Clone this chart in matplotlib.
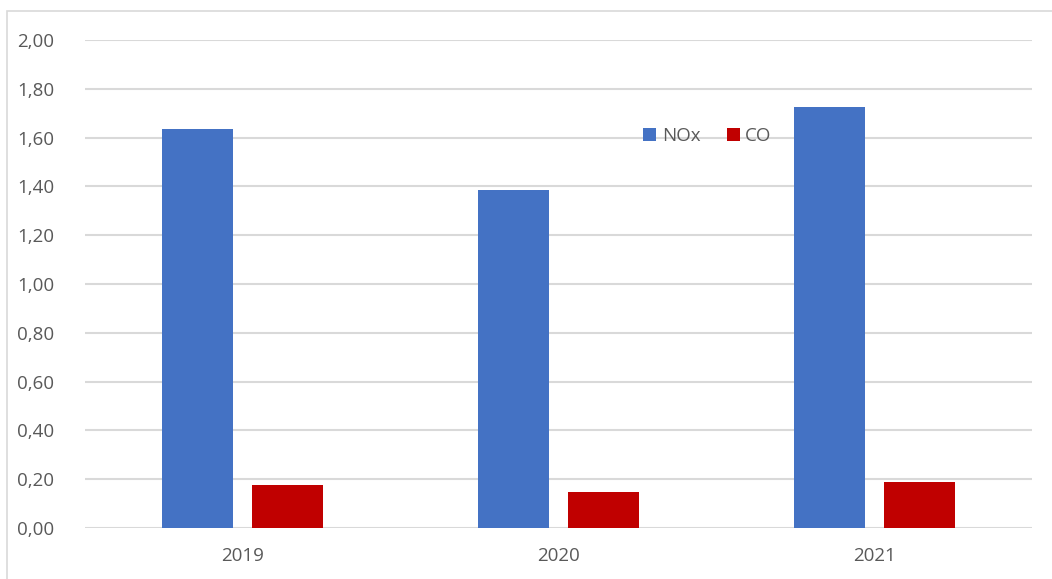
import numpy as np
import matplotlib.pyplot as plt
from matplotlib.patches import Rectangle

years = ['2019', '2020', '2021']
nox = [1.635, 1.385, 1.725]
co = [0.176, 0.148, 0.189]

plt.rcParams['font.family'] = ['Open Sans', 'DejaVu Sans']

fig = plt.figure(figsize=(10.52, 5.79), dpi=100)
ax = fig.add_axes([85 / 1052, 1 - 528 / 579, (1032 - 85) / 1052, (528 - 40) / 579])

# рамка вокруг диаграммы
fig.patches.append(Rectangle((7 / 1052, -0.05), 1.1, 1 - 11 / 579 + 0.05,
                             transform=fig.transFigure, fill=False,
                             edgecolor='#d9d9d9', linewidth=1.2))

x = np.arange(len(years))
w = 0.225
ax.bar(x - 0.143, nox, w, color='#4472c4', label='NOx', zorder=3)
ax.bar(x + 0.143, co, w, color='#c00000', label='CO', zorder=3)

ax.set_xlim(-0.5, 2.5)
ax.set_ylim(0, 2.0)
ax.set_yticks(np.arange(0, 2.01, 0.2))
ax.set_yticklabels([f'{v:.2f}'.replace('.', ',') for v in np.arange(0, 2.01, 0.2)])
ax.set_xticks(x)
ax.set_xticklabels(years)
ax.tick_params(axis='both', length=0, labelsize=13.5, labelcolor='#595959')
ax.tick_params(axis='y', pad=22)
ax.tick_params(axis='x', pad=14)
ax.grid(axis='y', color='#d9d9d9', linewidth=1.5, zorder=0)
for s in ax.spines.values():
    s.set_visible(False)

ax.legend(loc='upper left', bbox_to_anchor=((626 - 85) / 947, (528 - 110) / 488),
          ncol=2, frameon=False, fontsize=13.5, labelcolor='#595959',
          handlelength=0.7, handleheight=0.7, handletextpad=0.3, columnspacing=1.4)

fig.savefig('out.png', dpi=100)
